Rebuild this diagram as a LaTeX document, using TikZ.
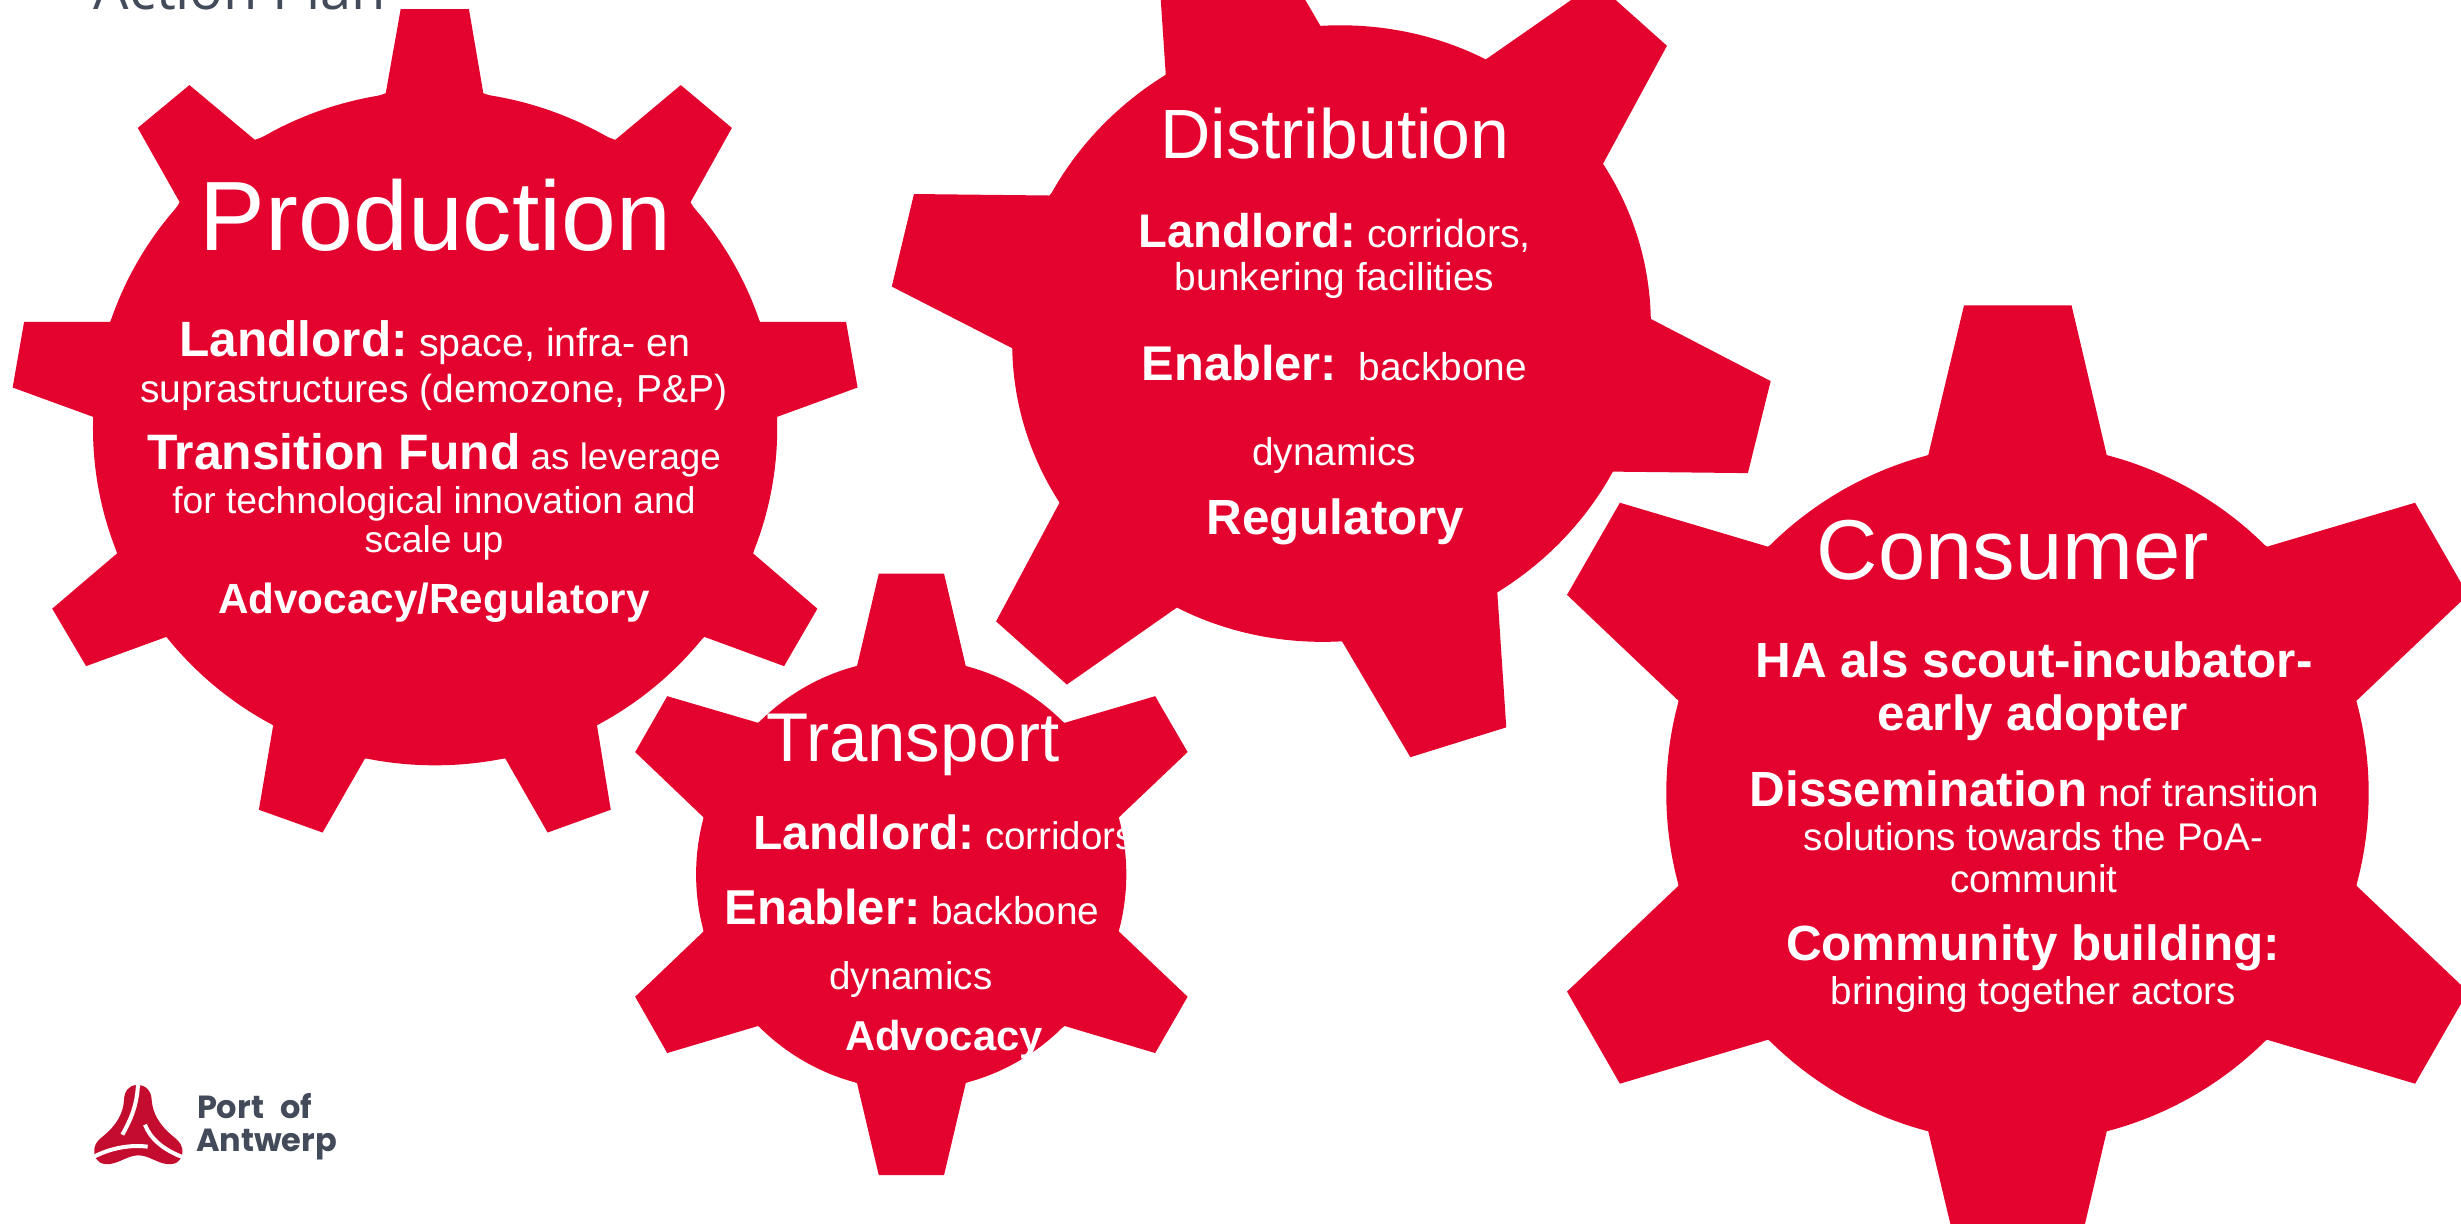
\documentclass[tikz,border=0pt]{standalone}
\usepackage{fontspec}
\setmainfont{Liberation Sans}
\newfontfamily\titlefont{Open Sans}
\newfontfamily\logofont{Poppins}
\definecolor{gearred}{HTML}{E4032E}
\definecolor{logored}{HTML}{C40D2E}
\definecolor{slategrey}{HTML}{434A59}
\newcommand\Bd[2]{{\fontsize{#1}{#1}\selectfont\bfseries #2}}
\newcommand\Rg[2]{{\fontsize{#1}{#1}\selectfont #2}}
\tikzset{
  gearfill/.style={fill=gearred,draw=none},
  gearline/.style={text=white,anchor=base,inner sep=0pt,outer sep=0pt},
  logotext/.style={text=slategrey,anchor=base west,inner sep=0pt,outer sep=0pt},
  logostreak/.style={draw=white,line width=2pt,line cap=butt}
}
\newcommand\gtxt[4]{\node[gearline] (#1) at (#2,#3) {#4};}
\begin{document}
\begin{tikzpicture}[x=0.5pt,y=-0.5pt]
\useasboundingbox (0,0) rectangle (2461,1224);
\clip (0,0) rectangle (2461,1224);
\fill[white] (0,0) rectangle (2461,1224);

% title, cut by the top edge
\node[text=slategrey,anchor=base,inner sep=0pt] (actionplan) at (240,9.5)
  {\titlefont\fontsize{28}{28}\selectfont Action Plan};

% Production gear
\begin{scope}[shift={(0,0)},xscale=1/1.742,yscale=1/1.845]
\fill[gearfill] (758,790) ellipse [x radius=596,y radius=622];
\fill[gearfill] (672,172)--(698,17)--(817,17)--(842,172)
  --(1072,258)--(1186,157)--(1275,236)--(1203,373)
  --(1324,594)--(1474,594)--(1494,715)--(1354,769)
  --(1312,1021)--(1424,1123)--(1366,1229)--(1227,1175)
  --(1040,1338)--(1064,1494)--(954,1536)--(880,1399)
  --(636,1399)--(562,1536)--(451,1494)--(476,1338)
  --(290,1175)--(150,1229)--(91,1123)--(204,1021)
  --(162,769)--(22,715)--(42,594)--(192,594)
  --(313,373)--(240,236)--(330,157)--(444,258)--cycle;
\end{scope}
\gtxt{prodtitle}{435.5}{251}{\Rg{49.3}{Production}}
\gtxt{prodA}{435}{356.8}{\Bd{24.8}{Landlord:}\Rg{19.7}{\ space, infra- en}}
\gtxt{prodB}{434}{402.2}{\Rg{19.5}{suprastructures (demozone, P\&P)}}
\gtxt{prodC}{434}{469.4}{\Bd{24.9}{Transition Fund}\Rg{18.4}{\ as leverage}}
\gtxt{prodD}{434}{513.3}{\Rg{18.6}{for technological innovation and}}
\gtxt{prodE}{434}{552.8}{\Rg{18.6}{scale up}}
\gtxt{prodF}{434}{613.6}{\Bd{21.1}{Advocacy/Regulatory}}

% Distribution gear
\begin{scope}[shift={(860,0)},xscale=1/1.668,yscale=1/2.01]
\fill[gearfill] (786.5,670.5) ellipse [x radius=531.8,y radius=620.4,rotate=-5.36];
\fill[gearfill] (510,150)--(495,-121)--(655,-181)--(768,52)
  --(1042,121)--(1228,-35)--(1346,92)--(1239,330)
  --(1319,641)--(1519,766)--(1481,951)--(1255,948)
  --(1063,1190)--(1078,1462)--(918,1522)--(804,1289)
  --(530,1220)--(345,1376)--(227,1249)--(333,1010)
  --(254,700)--(53,576)--(90,390)--(316,393)--cycle;
\end{scope}
\gtxt{distitle}{1335}{158.7}{\Rg{34.9}{Distribution}}
\gtxt{distA}{1334.8}{247.3}{\Bd{23.6}{Landlord:}\Rg{19.6}{\ corridors,}}
\gtxt{distB}{1334.5}{291}{\Rg{19.4}{bunkering facilities}}
\gtxt{distC}{1334.5}{380.6}{\Bd{24.4}{Enabler:}\Rg{19.4}{\ \ backbone}}
\gtxt{distD}{1334}{465.2}{\Rg{19.4}{dynamics}}
\gtxt{distE}{1335.4}{534.8}{\Bd{24.7}{Regulatory}}

% Consumer gear
\begin{scope}[shift={(1540,280)},xscale=1/1.7025,yscale=1/1.661]
\fill[gearfill] (813,852.5) ellipse [x radius=598,y radius=580.5];
\fill[gearfill] (661,291)--(722,42)--(905,42)--(965,291)
  --(1238,443)--(1490,370)--(1580,523)--(1390,699)
  --(1390,1006)--(1580,1182)--(1490,1335)--(1238,1262)
  --(965,1414)--(905,1663)--(722,1663)--(661,1414)
  --(388,1262)--(136,1335)--(46,1182)--(236,1006)
  --(236,699)--(46,523)--(136,370)--(388,443)--cycle;
\end{scope}
\gtxt{constitle}{2013}{579.2}{\Rg{42.5}{Consumer}}
\gtxt{consA}{2034}{677.5}{\Bd{24.7}{HA als scout-incubator-}}
\gtxt{consB}{2033}{730.3}{\Bd{24.7}{early adopter}}
\gtxt{consC}{2034.3}{806.5}{\Bd{24.7}{Dissemination}\Rg{19.3}{\ nof transition}}
\gtxt{consD}{2033.4}{850.7}{\Rg{19.3}{solutions towards the PoA-}}
\gtxt{consE}{2033.7}{892.3}{\Rg{19.3}{communit}}
\gtxt{consF}{2033}{960.3}{\Bd{24.7}{Community building:}}
\gtxt{consG}{2033.4}{1004.9}{\Rg{19.3}{bringing together actors}}

% Transport gear
\begin{scope}[shift={(600,550)},xscale=1/2.529,yscale=1/2.326]
\fill[gearfill] (787,754.5) ellipse [x radius=544,y radius=501];
\fill[gearfill] (650,270)--(705,55)--(870,55)--(925,270)
  --(1175,402)--(1404,340)--(1486,470)--(1312,622)
  --(1312,887)--(1486,1039)--(1404,1170)--(1175,1107)
  --(925,1240)--(870,1454)--(705,1454)--(650,1240)
  --(400,1107)--(170,1170)--(89,1039)--(262,887)
  --(262,622)--(89,470)--(170,340)--(400,402)--cycle;
\end{scope}
\gtxt{tratitle}{913}{761.5}{\Rg{34.5}{Transport}}
\node[gearline,anchor=base west] (traA) at (753,849.7)
  {\Bd{24}{Landlord:}\Rg{19.25}{\ corridors}};
\gtxt{traB}{912}{924}{\Bd{24.5}{Enabler:}\Rg{19.4}{\ backbone}}
\gtxt{traC}{910.8}{989.8}{\Rg{19.3}{dynamics}}
\gtxt{traD}{944}{1050.9}{\Bd{20.9}{Advocacy}}

% logo
\begin{scope}[shift={(60,1050)},scale=1/3]
\fill[logored] (232,105)
  .. controls (205,105) and (193,125) .. (192,150)
  .. controls (190,190) and (170,225) .. (130,258)
  .. controls (108,275) and (100,290) .. (103,310)
  .. controls (106,335) and (125,345) .. (150,342)
  .. controls (180,338) and (205,316) .. (235,316)
  .. controls (265,316) and (290,338) .. (320,342)
  .. controls (345,345) and (364,335) .. (367,310)
  .. controls (370,290) and (360,275) .. (338,258)
  .. controls (298,225) and (278,190) .. (275,150)
  .. controls (274,125) and (260,105) .. (232,105) -- cycle;
\draw[logostreak] (234,100) .. controls (232,160) and (215,205) .. (187,254);
\draw[logostreak] (102,320) .. controls (150,295) and (210,283) .. (263,290);
\draw[logostreak] (255,224) .. controls (270,265) and (310,300) .. (370,322);
\end{scope}
\node[logotext] (logoA) at (197,1118.3) {\logofont\bfseries\fontsize{16}{16}\selectfont Port\hspace{0.3em} of};
\node[logotext] (logoB) at (196,1151.7) {\logofont\bfseries\fontsize{16}{16}\selectfont Antwerp};
\end{tikzpicture}
\end{document}
